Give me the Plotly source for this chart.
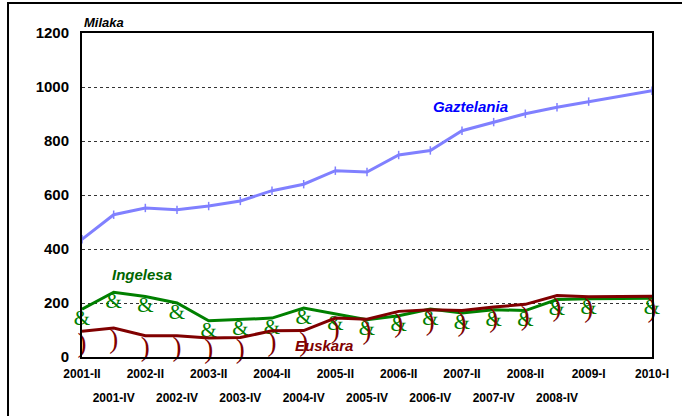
import plotly.graph_objects as go

# Survey periods (thousands of speakers per language)
periods = ["2001-II", "2001-IV", "2002-II", "2002-IV", "2003-II", "2003-IV",
           "2004-II", "2004-IV", "2005-II", "2005-IV", "2006-II", "2006-IV",
           "2007-II", "2007-IV", "2008-II", "2008-IV", "2009-I", "2010-I"]

gaztelania = [436, 527, 552, 545, 559, 578, 616, 640, 690, 685, 748, 765,
              838, 870, 901, 925, 946, 986]
ingelesa = [177, 240, 224, 200, 134, 140, 144, 181, 160, 138, 153, 178,
            163, 175, 172, 213, 216, 218]
euskara = [95, 107, 79, 79, 70, 72, 97, 98, 144, 140, 169, 175,
           172, 185, 195, 228, 223, 225]

# Axis slots: one empty slot sits between 2009-I and 2010-I
axis_slots = periods[:17] + [""] + periods[17:]
xpos = [axis_slots.index(p) for p in periods]

top_row = [(axis_slots.index(p), p) for p in periods if axis_slots.index(p) % 2 == 0]
bottom_row = [(axis_slots.index(p), p) for p in periods if axis_slots.index(p) % 2 == 1]

SANS = "Liberation Sans, Arial, sans-serif"
SERIF = "Liberation Serif, Times New Roman, serif"

fig = go.Figure()

fig.add_trace(go.Scatter(
    x=xpos, y=gaztelania, mode="lines+markers", name="Gaztelania",
    line=dict(color="#8080FF", width=3),
    marker=dict(symbol="line-ns", size=6, line=dict(color="#8080FF", width=1.5)),
    cliponaxis=False,
))
fig.add_trace(go.Scatter(
    x=xpos, y=ingelesa, mode="lines+text", name="Ingelesa",
    line=dict(color="#008000", width=3),
    text=["&"] * len(periods), textposition="bottom center",
    textfont=dict(family=SERIF, size=21, color="#008000"),
    cliponaxis=False,
))
fig.add_trace(go.Scatter(
    x=xpos, y=euskara, mode="lines+text", name="Euskara",
    line=dict(color="#800000", width=3),
    text=[")"] * len(periods), textposition="bottom center",
    textfont=dict(family=SERIF, size=27, color="#800000"),
    cliponaxis=False,
))
# carrier for the second row of period labels
fig.add_trace(go.Scatter(
    x=[None], y=[None], xaxis="x2", yaxis="y", mode="lines",
    showlegend=False, hoverinfo="skip",
))

fig.update_layout(
    width=682, height=416,
    margin=dict(l=82, r=30, t=33, b=59),
    paper_bgcolor="white", plot_bgcolor="white",
    showlegend=False,
    font=dict(family=SANS, color="black"),
    xaxis=dict(
        range=[0, len(axis_slots) - 1],
        tickmode="array",
        tickvals=[s for s, _ in top_row],
        ticktext=[t for _, t in top_row],
        tickfont=dict(family=SANS, size=12, color="black", weight="bold"),
        ticks="", ticklabelstandoff=5,
        showgrid=False, zeroline=False,
        showline=True, linecolor="black", linewidth=2, mirror=True,
    ),
    xaxis2=dict(
        overlaying="x", anchor="y", side="bottom",
        range=[0, len(axis_slots) - 1],
        tickmode="array",
        tickvals=[s for s, _ in bottom_row],
        ticktext=[t for _, t in bottom_row],
        tickfont=dict(family=SANS, size=12, color="black", weight="bold"),
        ticks="", ticklabelstandoff=32,
        showgrid=False, zeroline=False, showline=False,
    ),
    yaxis=dict(
        range=[0, 1200], dtick=200,
        tickfont=dict(family=SANS, size=15, color="black", weight="bold"),
        ticks="", ticklabelstandoff=8,
        showgrid=True, gridcolor="#333333", gridwidth=1, griddash="dot",
        zeroline=False,
        showline=True, linecolor="black", linewidth=2, mirror=True,
    ),
    annotations=[
        dict(text="<b><i>Milaka</i></b>", xref="paper", yref="paper",
             x=0, y=1.031, xanchor="left", yanchor="middle", showarrow=False,
             font=dict(family=SANS, size=13, color="black")),
        dict(text="<b><i>Gaztelania</i></b>", x=12.27, y=926,
             xanchor="center", yanchor="middle", showarrow=False,
             font=dict(family=SANS, size=15, color="#0000FF")),
        dict(text="<b><i>Ingelesa</i></b>", x=1.885, y=304,
             xanchor="center", yanchor="middle", showarrow=False,
             font=dict(family=SANS, size=15, color="#006600")),
        dict(text="<b><i>Euskara</i></b>", x=7.63, y=42,
             xanchor="center", yanchor="middle", showarrow=False,
             font=dict(family=SANS, size=15, color="#800000")),
    ],
    shapes=[
        dict(type="rect", xref="paper", yref="paper",
             x0=-0.1298, y0=-0.3, x1=1.2, y1=1.0926,
             line=dict(color="black", width=2), fillcolor="rgba(0,0,0,0)",
             layer="above"),
    ],
)

fig.write_html("out.html")
